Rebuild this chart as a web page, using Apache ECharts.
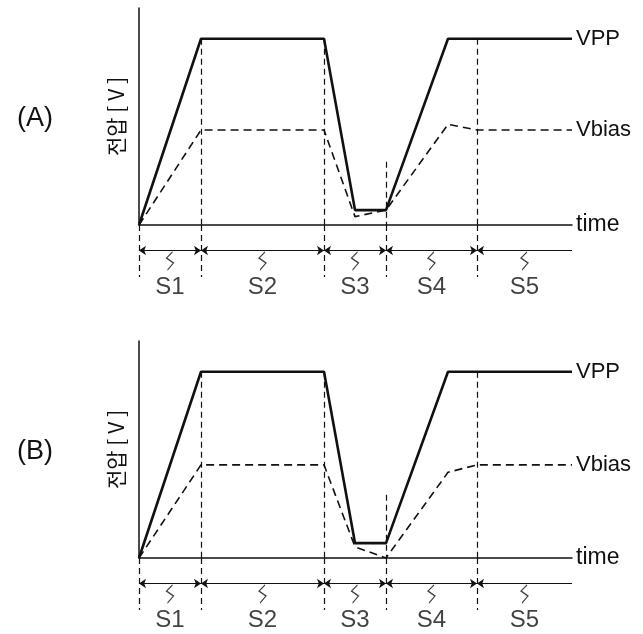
<!DOCTYPE html>
<html>
<head>
<meta charset="utf-8">
<script src="https://cdn.jsdelivr.net/npm/echarts@6/dist/echarts.min.js"></script>
<style>
  html, body { margin: 0; padding: 0; background: #fff; }
  #main { width: 643px; height: 634px; }
</style>
</head>
<body>
<div id="main"></div>
<script>
// time breakpoints (arbitrary units) and voltages (VPP = 10)
const times = [0, 62, 185, 216, 247, 309, 338, 433];
const vppA = [0, 10, 10, 0.8, 0.8, 10, 10, 10];
const vbiasA = [0, 5.1, 5.1, 0.45, 0.8, 5.4, 5.1, 5.1];
const vppB = [0, 10, 10, 0.8, 0.8, 10, 10, 10];
const vbiasB = [0, 5.0, 5.0, 0.6, 0, 4.6, 5.0, 5.0];

// step boundaries and names
const stepBounds = [0, 62, 185, 247, 338, 433];
const stepNames = ["S1", "S2", "S3", "S4", "S5"];
// where the dashed guide starts (voltage) for each inner boundary
const guideTops = [10, 10, 3.4, 10];

const panelNames = ["(A)", "(B)"];
const FONT = "'Liberation Sans Narrow', 'Liberation Sans', sans-serif";
const INK = "#111";

function zip(xs, ys) {
  return xs.map((x, i) => [x, ys[i]]);
}

var grids = [], xAxes = [], yAxes = [], series = [], titles = [];
var panelTops = [8, 341];
var panels = [[vppA, vbiasA], [vppB, vbiasB]];

panels.forEach(function (p, k) {
  var top = panelTops[k];
  var gi = grids.length;
  grids.push({ left: 139, width: 433, top: top, height: 217 });
  grids.push({ left: 139, width: 433, top: top + 217, height: 75 });

  xAxes.push({
    gridIndex: gi, type: "value", min: 0, max: 433,
    axisLine: { onZero: true, lineStyle: { color: INK, width: 1.5 } },
    axisTick: { show: false }, axisLabel: { show: false }, splitLine: { show: false },
    name: "time", nameLocation: "end", nameGap: 4,
    nameTextStyle: { color: INK, fontSize: 23, fontFamily: FONT, verticalAlign: "middle" }
  });
  yAxes.push({
    gridIndex: gi, type: "value", min: 0, max: 11.65,
    axisLine: { show: true, lineStyle: { color: INK, width: 1.5 } },
    axisTick: { show: false }, axisLabel: { show: false }, splitLine: { show: false },
    name: "전압 [ V ]", nameLocation: "middle", nameGap: 12, nameRotate: 90,
    nameTextStyle: { color: INK, fontSize: 21, fontFamily: "'Noto Sans CJK KR', sans-serif" }
  });
  xAxes.push({ gridIndex: gi + 1, type: "value", min: 0, max: 433, show: false });
  yAxes.push({ gridIndex: gi + 1, type: "value", min: -75, max: 0, show: false });

  var label = { show: true, formatter: "{a}", distance: 4, color: INK, fontSize: 22, fontFamily: FONT };

  series.push({
    name: "VPP", type: "line", xAxisIndex: gi, yAxisIndex: gi,
    data: zip(times, p[0]), showSymbol: false, symbol: "none", silent: true,
    lineStyle: { color: INK, width: 2.6 },
    endLabel: label,
    markLine: {
      silent: true, symbol: "none", label: { show: false },
      lineStyle: { color: INK, width: 1.2, type: [6, 4] },
      data: guideTops.map(function (v, i) {
        return [{ coord: [stepBounds[i + 1], v] }, { coord: [stepBounds[i + 1], 0] }];
      })
    }
  });
  series.push({
    name: "Vbias", type: "line", xAxisIndex: gi, yAxisIndex: gi,
    data: zip(times, p[1]), showSymbol: false, symbol: "none", silent: true,
    lineStyle: { color: INK, width: 1.6, type: [8, 5] },
    endLabel: label
  });

  // step markers below the time axis
  series.push({
    name: "steps", type: "scatter", xAxisIndex: gi + 1, yAxisIndex: gi + 1, silent: true,
    symbol: "path://M7,0 L1,6 L8,11 L2,18", symbolSize: [7, 18],
    itemStyle: { color: "transparent", borderColor: INK, borderWidth: 1 },
    label: {
      show: true, position: "bottom", distance: 5, formatter: "{b}",
      color: INK, fontSize: 24, fontFamily: FONT
    },
    data: stepNames.map(function (n, i) {
      return { name: n, value: [(stepBounds[i] + stepBounds[i + 1]) / 2, -36] };
    }),
    markLine: {
      silent: true, symbol: "none", label: { show: false },
      lineStyle: { color: INK, width: 1.2, type: [6, 4] },
      data: stepBounds.slice(0, 5).map(function (b) {
        return [{ coord: [b, 0] }, { coord: [b, -52] }];
      })
    }
  });
  series.push({
    name: "spans", type: "line", xAxisIndex: gi + 1, yAxisIndex: gi + 1, data: [], silent: true,
    markLine: {
      silent: true, symbol: ["arrow", "arrow"], symbolSize: 7, label: { show: false },
      lineStyle: { color: INK, width: 1, type: "solid" },
      data: stepNames.map(function (n, i) {
        var end = { coord: [stepBounds[i + 1], -25.5] };
        if (i === stepNames.length - 1) end.symbol = "none";
        return [{ coord: [stepBounds[i], -25.5] }, end];
      })
    }
  });

  titles.push({
    text: panelNames[k], left: 12, top: top + 92,
    textStyle: { color: INK, fontSize: 27, fontWeight: "normal", fontFamily: FONT }
  });
});

var myChart = echarts.init(document.getElementById("main"));
myChart.setOption({
  animation: false,
  backgroundColor: "#fff",
  title: titles,
  grid: grids,
  xAxis: xAxes,
  yAxis: yAxes,
  series: series
});
</script>
</body>
</html>
